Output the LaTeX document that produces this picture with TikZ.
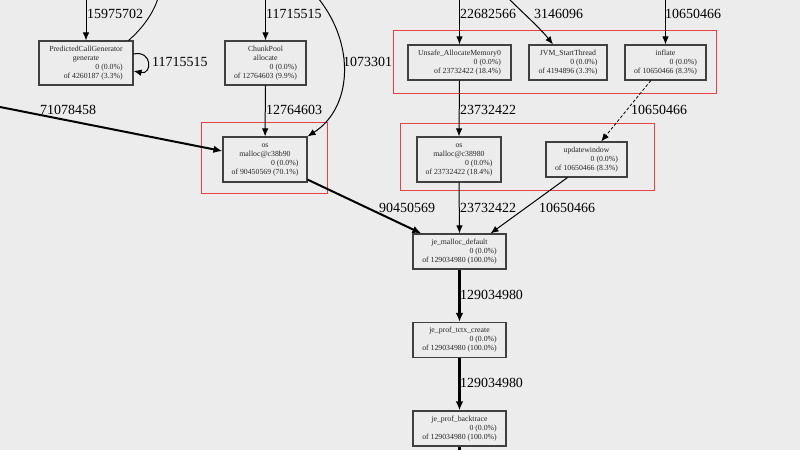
\documentclass[tikz,border=0pt]{standalone}
\usepackage{fontspec}
\setmainfont{Liberation Serif}
\usetikzlibrary{arrows.meta}
\definecolor{bg}{RGB}{236,236,236}
\definecolor{clred}{RGB}{229,66,66}
\newcommand\mcl[1]{\multicolumn{1}{@{}c@{}}{#1}}
\begin{document}
\begin{tikzpicture}[x=1bp,y=-1bp,
 fn/.style={draw=black!75, line width=1.1bp, fill=bg, inner sep=0pt, font=\fontsize{7.8}{9}\selectfont, text=black!85},
 lbl/.style={anchor=west, inner sep=0pt, font=\fontsize{14}{16}\selectfont},
 cl/.style={draw=clred, line width=1bp},
 ed/.style={line width=1bp, -{Latex[length=8bp,width=6.5bp]}},
 edl/.style={line width=0.9bp},
 edk/.style={line width=2bp, -{Latex[length=9bp,width=7.5bp]}},
 edx/.style={line width=2.6bp, -{Latex[length=9bp,width=7.5bp]}},
]
\fill[bg] (0,0) rectangle (800,450);
\useasboundingbox (0,0) rectangle (800,450);

% clusters
\draw[cl] (201,123) rectangle (327,194);
\draw[cl] (393,31) rectangle (716,94);
\draw[cl] (400,124) rectangle (654,191);

% nodes
\node[fn, minimum width=94bp, minimum height=44bp] (pcg) at (86,63)
 {\begin{tabular}{@{}r@{}}\mcl{PredictedCallGenerator}\\\mcl{generate}\\0 (0.0\%)\\of 4260187 (3.3\%)\end{tabular}};
\node[fn, minimum width=81bp, minimum height=44bp] (chunk) at (265.5,63)
 {\begin{tabular}{@{}r@{}}\mcl{ChunkPool}\\\mcl{allocate}\\0 (0.0\%)\\of 12764603 (9.9\%)\end{tabular}};
\node[fn, minimum width=84bp, minimum height=45bp] (osb) at (265,159.5)
 {\begin{tabular}{@{}r@{}}\mcl{os}\\\mcl{malloc@c38b90}\\0 (0.0\%)\\of 90450569 (70.1\%)\end{tabular}};
\node[fn, minimum width=103bp, minimum height=35bp] (unsafe) at (459.5,62.5)
 {\begin{tabular}{@{}r@{}}\mcl{Unsafe\_AllocateMemory0}\\0 (0.0\%)\\of 23732422 (18.4\%)\end{tabular}};
\node[fn, minimum width=78bp, minimum height=35bp] (jvm) at (568,62.5)
 {\begin{tabular}{@{}r@{}}\mcl{JVM\_StartThread}\\0 (0.0\%)\\of 4194896 (3.3\%)\end{tabular}};
\node[fn, minimum width=81bp, minimum height=35bp] (inflate) at (665.5,62.5)
 {\begin{tabular}{@{}r@{}}\mcl{inflate}\\0 (0.0\%)\\of 10650466 (8.3\%)\end{tabular}};
\node[fn, minimum width=84bp, minimum height=45bp] (osa) at (459,159.5)
 {\begin{tabular}{@{}r@{}}\mcl{os}\\\mcl{malloc@c38980}\\0 (0.0\%)\\of 23732422 (18.4\%)\end{tabular}};
\node[fn, minimum width=81bp, minimum height=35bp] (upd) at (586.5,159.5)
 {\begin{tabular}{@{}r@{}}\mcl{updatewindow}\\0 (0.0\%)\\of 10650466 (8.3\%)\end{tabular}};
\node[fn, minimum width=93bp, minimum height=35bp] (jmd) at (459.5,251.5)
 {\begin{tabular}{@{}r@{}}\mcl{je\_malloc\_default}\\0 (0.0\%)\\of 129034980 (100.0\%)\end{tabular}};
\node[fn, minimum width=93bp, minimum height=35bp] (jptc) at (459.5,340)
 {\begin{tabular}{@{}r@{}}\mcl{je\_prof\_tctx\_create}\\0 (0.0\%)\\of 129034980 (100.0\%)\end{tabular}};
\node[fn, minimum width=93bp, minimum height=35bp] (jpb) at (459.5,428.5)
 {\begin{tabular}{@{}r@{}}\mcl{je\_prof\_backtrace}\\0 (0.0\%)\\of 129034980 (100.0\%)\end{tabular}};

% free ends
\coordinate (t1) at (86,-2);
\coordinate (t2) at (158,-2);
\coordinate (t3) at (265.5,-2);
\coordinate (t4) at (318,-2);
\coordinate (t5) at (0,107);
\coordinate (t6) at (459.5,-2);
\coordinate (t7) at (508,-2);
\coordinate (t8) at (665.5,-2);
\coordinate (t9) at (459.5,460);

% edges
\draw[ed] (t1) -- (pcg.north);
\draw[edl] ([xshift=-5bp]pcg.north east) .. controls (143,28) and (154,12) .. (t2);
\draw[ed] ([yshift=9bp]pcg.east) .. controls +(19,-4) and +(19,4) .. ([yshift=-8bp]pcg.east);
\draw[ed] (t3) -- (chunk.north);
\draw[ed] (chunk) -- (osb);
\draw[ed] (t4) .. controls (356,45) and (352,108) .. (osb.north east);
\draw[edk] (t5) -- (osb);
\draw[edk] (osb) -- (jmd);
\draw[ed] (t6) -- (unsafe.north);
\draw[ed] (t7) .. controls (522,12) and (540,28) .. ([xshift=-15bp]jvm.north);
\draw[ed] (t8) -- (inflate.north);
\draw[ed, dashed, dash pattern=on 3bp off 2bp, line width=0.8bp] (inflate) -- (upd);
\draw[ed] (unsafe.south) -- (osa.north);
\draw[ed] (osa.south) -- (jmd.north);
\draw[ed] ([xshift=-19bp]upd.south) -- ([xshift=31bp]jmd.north);
\draw[edx] (jmd) -- (jptc);
\draw[edx] (jptc) -- (jpb);
\draw[line width=2.6bp] (jpb) -- (t9);

% edge labels
\node[lbl] (l1) at (87,14) {15975702};
\node[lbl] (l2) at (152,62) {11715515};
\node[lbl] (l3) at (266,14) {11715515};
\node[lbl] (l4) at (343,62) {1073301};
\node[lbl] (l5) at (40,110) {71078458};
\node[lbl] (l6) at (266,110) {12764603};
\node[lbl] (l7) at (460,14) {22682566};
\node[lbl] (l8) at (534,14) {3146096};
\node[lbl] (l9) at (665,14) {10650466};
\node[lbl] (l10) at (460,110) {23732422};
\node[lbl] (l11) at (631,110) {10650466};
\node[lbl] (l12) at (379,208) {90450569};
\node[lbl] (l13) at (460,208) {23732422};
\node[lbl] (l14) at (539,208) {10650466};
\node[lbl] (l15) at (460,295) {129034980};
\node[lbl] (l16) at (460,383) {129034980};
\end{tikzpicture}
\end{document}
